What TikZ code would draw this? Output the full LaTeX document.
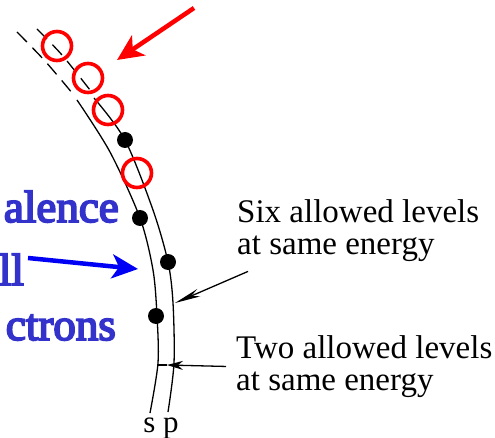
\documentclass[tikz,border=0pt]{standalone}
\usepackage{fontspec}
\setmainfont{Liberation Serif}
\newfontfamily\shellfont{Liberation Serif}[FakeBold=4]
\usetikzlibrary{arrows.meta}
\definecolor{shellblue}{RGB}{51,51,204}
\definecolor{ptrblue}{RGB}{0,0,245}

\begin{document}
\begin{tikzpicture}[
  x=1pt, y=-1pt,
  level/.style={line width=1.3pt, black},
  unfilled/.style={level, dash pattern=on 14pt off 8pt},
  hole/.style={circle, draw=red, line width=3.6pt, minimum size=29pt, inner sep=0pt},
  elec/.style={circle, fill=black, minimum size=16pt, inner sep=0pt},
  note/.style={font=\fontsize{33}{31.5}\selectfont, align=left, inner sep=0pt, anchor=north west},
  shell/.style={font=\fontsize{45}{45}\selectfont\shellfont, text=shellblue, inner sep=0pt, anchor=base east},
  ptr/.style={-{Stealth[length=26pt, width=8pt]}, line width=1.3pt},
  hint/.style={-{Stealth[length=26pt, width=24pt, inset=7pt]}, line width=4.5pt},
]
  \useasboundingbox (0,0) rectangle (495,438);

  % the two levels, s and p
  \draw[unfilled] plot[smooth] coordinates {(17,32) (45,61) (73,94)};
  \draw[level] plot[smooth] coordinates {(77,100) (110,152) (140,218) (153,270) (157,316) (158,363) (150,413)};
  \draw[unfilled] plot[smooth] coordinates {(37,29) (62,55) (90,90)};
  \draw[level] plot[smooth] coordinates {(94,98) (125,140) (153,210) (168,262) (173,303) (174,363) (168,412)};
  \node[inner sep=0pt, font=\fontsize{31}{31}\selectfont, anchor=base] (sp) at (161,432) {s p};

  % electrons and empty places
  \node[elec] (s1) at (140,218) {};
  \node[elec] (s2) at (156,316) {};
  \node[elec] (p1) at (125,140) {};
  \node[elec] (p2) at (168,262) {};
  \node[hole] (h1) at (57,46) {};
  \node[hole] (h2) at (88,78) {};
  \node[hole] (h3) at (108,110) {};
  \node[hole] (h4) at (137,173) {};

  \node[note] (six) at (237,199.5) {Six allowed levels\\at same energy};
  \node[note] (two) at (236,335.5) {Two allowed levels\\at same energy};
  \coordinate (pSix) at (175,303);
  \coordinate (pTwo) at (167,365);
  \coordinate (sTwo) at (157,365);
  \draw[ptr] ([xshift=11pt, yshift=-10pt]six.south west) -- (pSix);
  \draw[ptr, -{Stealth[length=16pt, width=9pt]}] ([xshift=-10pt]two.west) -- (pTwo);
  \draw[level] (pTwo) -- (sTwo);

  \node[shell] (val1) at (119,222) {alence};
  \node[shell] (val2) at (24,285) {ll};
  \node[shell] (val3) at (116,340) {ctrons};
  \coordinate (sTip) at (138,269);
  \draw[hint, ptrblue] ([xshift=4pt]val2.east |- 0,258) -- (sTip);

  \coordinate (hTop) at (194,8);
  \coordinate (hTip) at (117,60);
  \draw[hint, red] (hTop) -- (hTip);
\end{tikzpicture}
\end{document}
